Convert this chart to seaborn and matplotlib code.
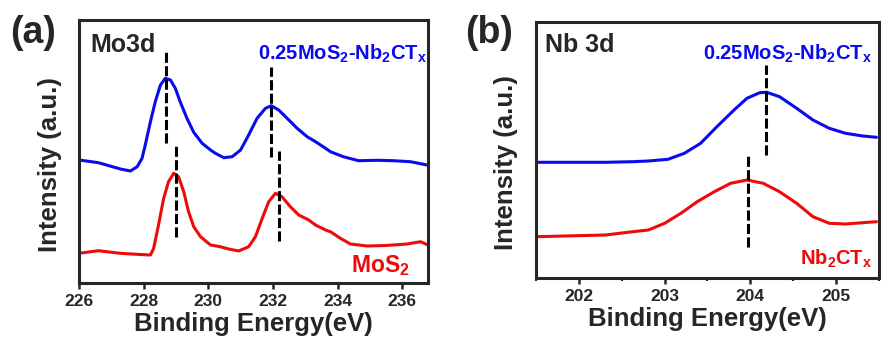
import numpy as np
import pandas as pd
import seaborn as sns
import matplotlib
matplotlib.use("Agg")
import matplotlib.pyplot as plt
from matplotlib.ticker import MultipleLocator

# Mo 3d spectra (panel a), intensity in arbitrary units
mo_energy_blue = [226.0, 226.6, 227.28, 227.59, 227.80, 227.95, 228.05, 228.21, 228.36, 228.52,
                  228.67, 228.83, 228.98, 229.13, 229.34, 229.55, 229.81, 230.07, 230.22, 230.48,
                  230.74, 231.0, 231.25, 231.51, 231.77, 231.95, 232.18, 232.44, 232.75, 233.06,
                  233.32, 233.63, 233.78, 234.18, 234.65, 235.23, 235.73, 236.26, 236.77]
mo_blue = [123, 120.3, 114, 112, 116.3, 124.7, 138, 161.3, 181.3, 198,
           204.7, 203, 194.7, 181.3, 164.7, 150.7, 139.7, 133, 129.7, 125.3,
           126.3, 133, 148, 164.7, 174.7, 177.3, 173, 164.7, 154.7, 146.3,
           141.3, 134.7, 131.3, 126.3, 122.3, 122.7, 122.3, 121.3, 118]

mo_energy_red = [226.0, 226.6, 227.28, 227.80, 228.21, 228.31, 228.46, 228.62, 228.77, 228.93,
                 229.08, 229.24, 229.39, 229.55, 229.76, 230.07, 230.37, 230.63, 230.94, 231.25,
                 231.46, 231.67, 231.87, 232.08, 232.28, 232.54, 232.80, 233.11, 233.32, 233.63,
                 233.78, 234.09, 234.40, 234.92, 235.5, 236.15, 236.57, 236.8]
mo_red = [29.7, 32.3, 29.7, 28.7, 28, 34.7, 58, 84.7, 101.3, 109.7,
          106.3, 91.3, 71.3, 56.3, 46.3, 38, 36.3, 34, 32, 36.3,
          46.3, 64.7, 81.3, 89.7, 86.3, 76.3, 68, 63, 58, 53,
          51.3, 44.7, 39, 37, 37.5, 39, 41.3, 38]

# Nb 3d spectra (panel b)
nb_energy_blue = [201.5, 202.31, 202.63, 202.81, 203.04, 203.23, 203.42, 203.61, 203.81, 203.96,
                  204.11, 204.19, 204.34, 204.54, 204.73, 204.92, 205.11, 205.31, 205.47]
nb_blue = [115.7, 115.7, 116.3, 117, 118.7, 124.7, 134.7, 151.3, 168, 179.7,
           185.3, 185.7, 181.3, 169.7, 158, 149.7, 144.7, 142, 140.7]

nb_energy_red = [201.5, 202.31, 202.6, 202.81, 203.0, 203.19, 203.38, 203.58, 203.77, 203.96,
                 204.15, 204.34, 204.54, 204.73, 204.92, 205.11, 205.31, 205.47]
nb_red = [41.3, 43, 46, 48, 54.7, 64.7, 76.3, 86.3, 94.7, 98,
          94.7, 86.3, 74.7, 61.3, 54.7, 54, 55.3, 56.3]

# peak marker lines: position, bottom, top
mo_peaks = [228.69, 231.94, 229.01, 232.18]
mo_peak_low = [140, 126, 46, 42]
mo_peak_high = [231, 216, 137, 132]
nb_peaks = [204.18, 203.97]
nb_peak_low = [123, 31]
nb_peak_high = [213, 122]

BLUE = "#0a0aee"
RED = "#ee0a0a"


def style_axis(ax, xlim, ylim, major, minor=None):
    ax.set_xlim(*xlim)
    ax.set_ylim(*ylim)
    ax.xaxis.set_major_locator(MultipleLocator(major))
    if minor:
        ax.xaxis.set_minor_locator(MultipleLocator(minor))
    ax.set_yticks([])
    for sp in ax.spines.values():
        sp.set_linewidth(2.2)
        sp.set_visible(True)
    ax.tick_params(axis="x", which="major", direction="out", length=4, width=1.8,
                   labelsize=12.5, pad=4)
    ax.tick_params(axis="x", which="minor", direction="out", length=2.5, width=1.5)
    for lbl in ax.get_xticklabels():
        lbl.set_fontweight("bold")
    ax.set_xlabel("Binding Energy(eV)", fontsize=18.5, fontweight="bold", labelpad=2)
    ax.set_ylabel("Intensity (a.u.)", fontsize=18.5, fontweight="bold")


def draw_spectrum(ax, energy, intensity, color):
    df = pd.DataFrame({"energy": energy, "intensity": intensity})
    sns.lineplot(data=df, x="energy", y="intensity", color=color, linewidth=2.2,
                 legend=False, ax=ax, estimator=None, solid_joinstyle="round",
                 solid_capstyle="round")


sns.set_theme(style="ticks")
plt.rcParams["font.family"] = ["Liberation Sans", "DejaVu Sans"]
plt.rcParams["font.weight"] = "bold"
plt.rcParams["mathtext.fontset"] = "custom"
plt.rcParams["mathtext.rm"] = "Liberation Sans:bold"
plt.rcParams["mathtext.it"] = "Liberation Sans:bold"
plt.rcParams["mathtext.bf"] = "Liberation Sans:bold"

fig = plt.figure(figsize=(8.81, 3.43), dpi=100)
ax1 = fig.add_axes([0.0897, 0.1749, 0.3961, 0.7668])
ax2 = fig.add_axes([0.6084, 0.1895, 0.3893, 0.7464])

# panel a
draw_spectrum(ax1, mo_energy_blue, mo_blue, BLUE)
draw_spectrum(ax1, mo_energy_red, mo_red, RED)
ax1.vlines(mo_peaks, mo_peak_low, mo_peak_high, colors="black", linewidth=2.2,
           linestyles=(0, (3.3, 1.1)))
style_axis(ax1, (226, 236.8), (0, 263), 2)
ax1.yaxis.set_label_coords(-0.049, 0.45)
ax1.text(0.032, 0.879, "Mo3d", transform=ax1.transAxes, fontsize=18, fontweight="bold",
         va="baseline", ha="left")
ax1.text(0.997, 0.850, r"0.25MoS$_2$-Nb$_2$CT$_x$", transform=ax1.transAxes, fontsize=14.5,
         color=BLUE, fontweight="bold", va="baseline", ha="right")
ax1.text(0.948, 0.042, r"MoS$_2$", transform=ax1.transAxes, fontsize=16.5,
         color=RED, fontweight="bold", va="baseline", ha="right")

# panel b
draw_spectrum(ax2, nb_energy_blue, nb_blue, BLUE)
draw_spectrum(ax2, nb_energy_red, nb_red, RED)
ax2.vlines(nb_peaks, nb_peak_low, nb_peak_high, colors="black", linewidth=2.2,
           linestyles=(0, (3.3, 1.1)))
style_axis(ax2, (201.5, 205.5), (0, 256), 1, 0.5)
ax2.yaxis.set_label_coords(-0.052, 0.45)
ax2.text(0.026, 0.882, "Nb 3d", transform=ax2.transAxes, fontsize=18, fontweight="bold",
         va="baseline", ha="left")
ax2.text(0.980, 0.854, r"0.25MoS$_2$-Nb$_2$CT$_x$", transform=ax2.transAxes, fontsize=14.5,
         color=BLUE, fontweight="bold", va="baseline", ha="right")
ax2.text(0.980, 0.051, r"Nb$_2$CT$_x$", transform=ax2.transAxes, fontsize=14.5,
         color=RED, fontweight="bold", va="baseline", ha="right")

fig.text(0.011, 0.904, "(a)", fontsize=27, fontweight="bold", va="center", ha="left")
fig.text(0.528, 0.904, "(b)", fontsize=27, fontweight="bold", va="center", ha="left")

fig.savefig("out.png", dpi=100)
